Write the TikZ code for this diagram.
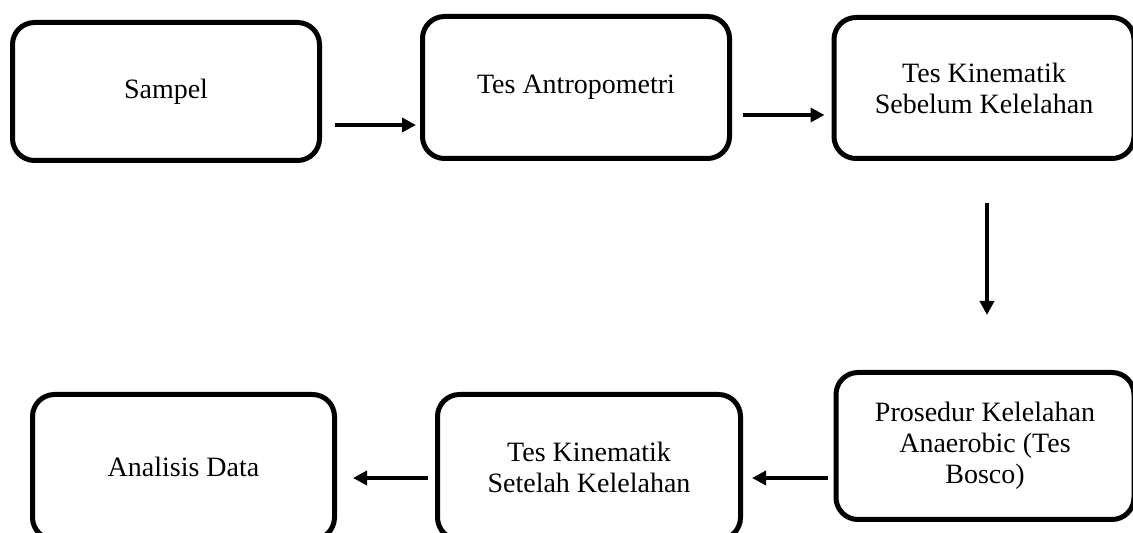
\documentclass[tikz,border=0pt]{standalone}
\usepackage{fontspec}
\setmainfont{Liberation Serif}
\usepackage{tikz}
\usetikzlibrary{positioning, arrows.meta}

\begin{document}
\begin{tikzpicture}[x=1pt, y=1pt,
        stepbox/.style={draw, line width=5pt, rounded corners=22pt, align=center,
            font=\fontsize{28}{31}\selectfont},
        flow/.style={line width=4.5pt, -{Triangle[length=14pt, width=14pt]}}]
            \clip (0, 0) rectangle (1133, 533);
            % top row
            \node[stepbox, minimum width=307pt, minimum height=138pt] (sampel) at (166, 441.5) {Sampel};
            \node[stepbox, minimum width=307pt, minimum height=142pt] (antro) at (576, 445.5) {Tes Antropometri};
            \node[stepbox, minimum width=300pt, minimum height=141pt] (sebelum) at (984, 445) {Tes Kinematik\\Sebelum Kelelahan};
            % bottom row
            \node[stepbox, minimum width=298pt, minimum height=147pt] (prosedur) at (985, 87) {Prosedur Kelelahan\\Anaerobic (Tes\\Bosco)};
            \node[stepbox, minimum width=303pt, minimum height=145pt] (setelah) at (589, 66) {Tes Kinematik\\Setelah Kelelahan};
            \node[stepbox, minimum width=302pt, minimum height=145pt] (analisis) at (183.5, 66) {Analisis Data};
            % connectors
            \draw[flow] ([xshift=13pt, yshift=-33.5pt]sampel.east) -- ([xshift=-4pt, yshift=-37.5pt]antro.west);
            \draw[flow] ([xshift=11pt, yshift=-27.5pt]antro.east) -- ([xshift=-7pt, yshift=-27pt]sebelum.west);
            \draw[flow] ([xshift=3pt, yshift=-42pt]sebelum.south) -- ([xshift=2pt, yshift=55pt]prosedur.north);
            \draw[flow] ([xshift=-6pt, yshift=-32pt]prosedur.west) -- ([xshift=9pt, yshift=-11pt]setelah.east);
            \draw[flow] ([xshift=-7pt, yshift=-11pt]setelah.west) -- ([xshift=16pt, yshift=-11pt]analisis.east);
        \end{tikzpicture}
\end{document}
